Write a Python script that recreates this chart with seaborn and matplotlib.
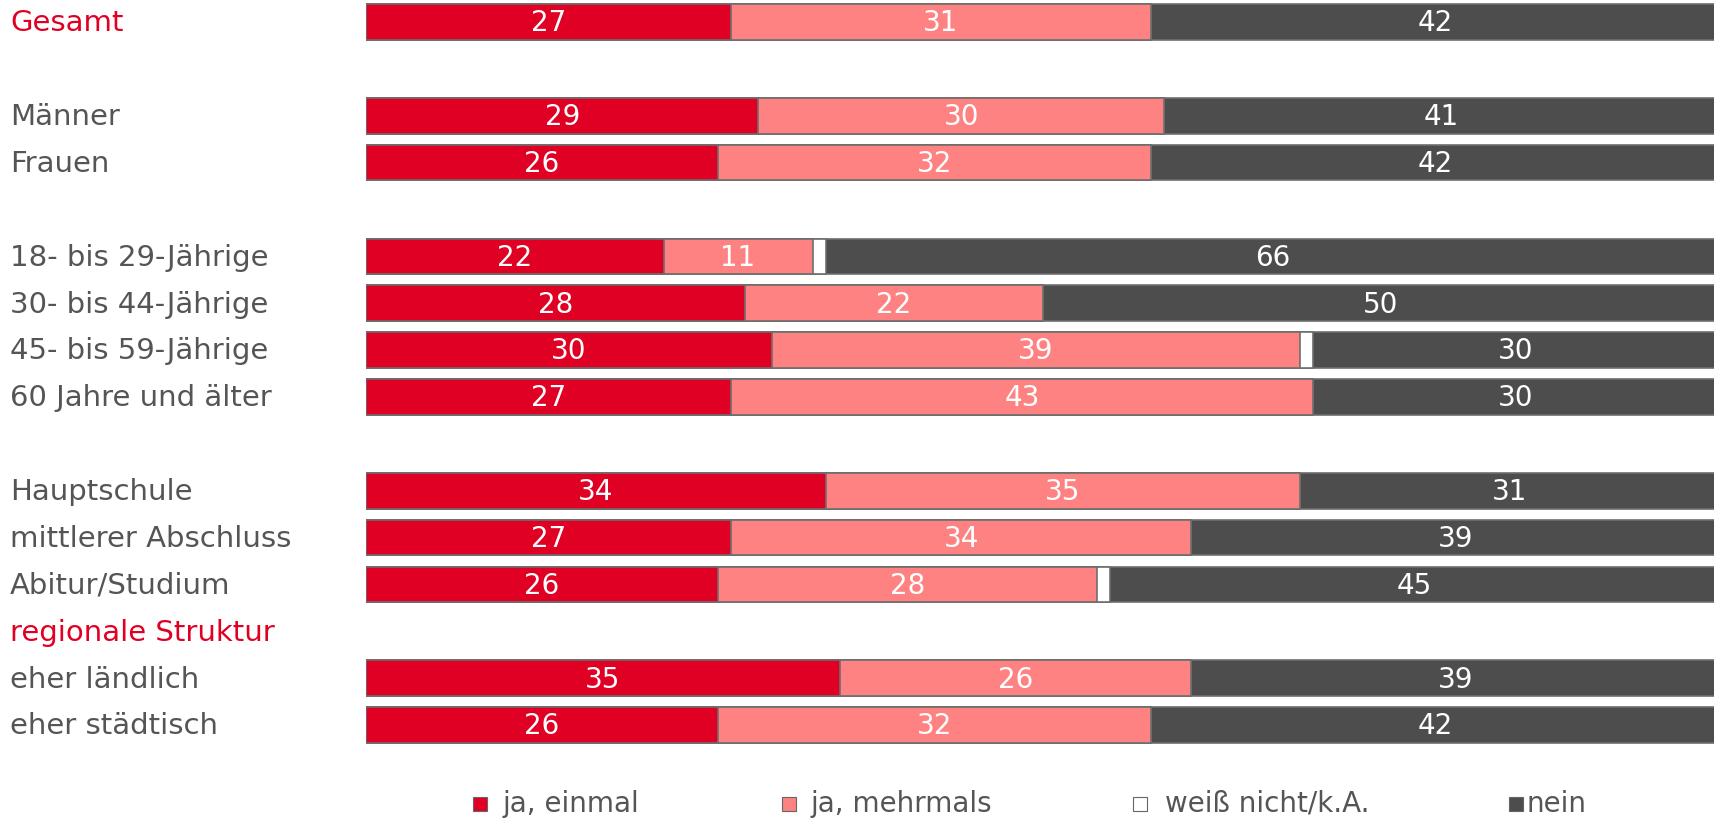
import numpy as np
import pandas as pd
import matplotlib
matplotlib.use("Agg")
import matplotlib.pyplot as plt
import matplotlib.transforms as mtransforms
from matplotlib.patches import Rectangle
import seaborn as sns

sns.set_theme(style="white")
plt.rcParams['font.family'] = ['DejaVu Sans']

# ---- data ----
labels = ["Gesamt", "Männer", "Frauen",
          "18- bis 29-Jährige", "30- bis 44-Jährige", "45- bis 59-Jährige", "60 Jahre und älter",
          "Hauptschule", "mittlerer Abschluss", "Abitur/Studium",
          "eher ländlich", "eher städtisch"]
slots = [0, 2, 3, 5, 6, 7, 8, 10, 11, 12, 14, 15]
ja_einmal = [27, 29, 26, 22, 28, 30, 27, 34, 27, 26, 35, 26]
ja_mehrmals = [31, 30, 32, 11, 22, 39, 43, 35, 34, 28, 26, 32]
weiss_nicht = [0, 0, 0, 1, 0, 1, 0, 0, 0, 1, 0, 0]
nein = [42, 41, 42, 66, 50, 30, 30, 31, 39, 45, 39, 42]
header_label = "regionale Struktur"
header_slot = 13
series_names = ["ja, einmal", "ja, mehrmals", "weiß nicht/k.A.", "nein"]

RED = "#E00024"
PINK = "#FF8282"
WHITE = "#FFFFFF"
DARK = "#4D4D4D"
TXT = "#555555"
EDGE = "#6E6E6E"
colors = [RED, PINK, WHITE, DARK]

df = pd.DataFrame({"label": labels, "pos": slots,
                   "a": ja_einmal, "b": ja_mehrmals, "c": weiss_nicht, "d": nein})
df["c1"] = df["a"]
df["c2"] = df["a"] + df["b"]
df["c3"] = df["c2"] + df["c"]
df["c4"] = df["c3"] + df["d"]

W, H = 1715, 818
fig = plt.figure(figsize=(W / 100, H / 100), dpi=100)
slot_px = 46.87
top_px = 22
ax_left = 366 / W
ylim_top = -top_px / slot_px
ylim_bot = 16.0
bottom_px = top_px + ylim_bot * slot_px
ax = fig.add_axes([ax_left, (H - bottom_px) / H, 1 - ax_left, bottom_px / H])

# overlay cumulative bars, largest first
for col, c in zip(["c4", "c3", "c2", "c1"], [DARK, WHITE, PINK, RED]):
    sns.barplot(data=df, x=col, y="pos", orient="y", native_scale=True,
                color=c, saturation=1, width=0.76, edgecolor=EDGE, linewidth=1.2,
                ax=ax, errorbar=None)

ax.set_xlim(0, 99.7)
ax.set_ylim(ylim_bot, ylim_top)
ax.axis("off")

# value labels
for _, r in df.iterrows():
    starts = [0, r["c1"], r["c2"], r["c3"]]
    vals = [r["a"], r["b"], r["c"], r["d"]]
    for i, (s, v) in enumerate(zip(starts, vals)):
        if i == 2 or v <= 0:
            continue
        ax.text(s + v / 2, r["pos"] + 0.03, f"{int(v)}", color="white", fontsize=20,
                ha="center", va="center")

# category labels
trans = mtransforms.blended_transform_factory(fig.transFigure, ax.transData)
for lab, p in zip(labels, slots):
    ax.text(10 / W, p + 0.03, lab, transform=trans, ha="left", va="center",
            fontsize=21, color=RED if lab == "Gesamt" else TXT, clip_on=False)
ax.text(10 / W, header_slot + 0.03, header_label, transform=trans, ha="left", va="center",
        fontsize=21, color=RED, clip_on=False)

# legend
leg_x = [473, 782, 1133, 1509]
leg_gap = [30, 29, 32, 18]
leg_y = 804
for name, c, x, g in zip(series_names, colors, leg_x, leg_gap):
    fig.patches.append(Rectangle((x / W, (H - leg_y - 7) / H), 14 / W, 14 / H,
                                 transform=fig.transFigure, facecolor=c,
                                 edgecolor="#666666", linewidth=0.8))
    fig.text((x + g) / W, (H - leg_y) / H, name, ha="left", va="center",
             fontsize=20, color=TXT)

fig.savefig("out.png", dpi=100)
